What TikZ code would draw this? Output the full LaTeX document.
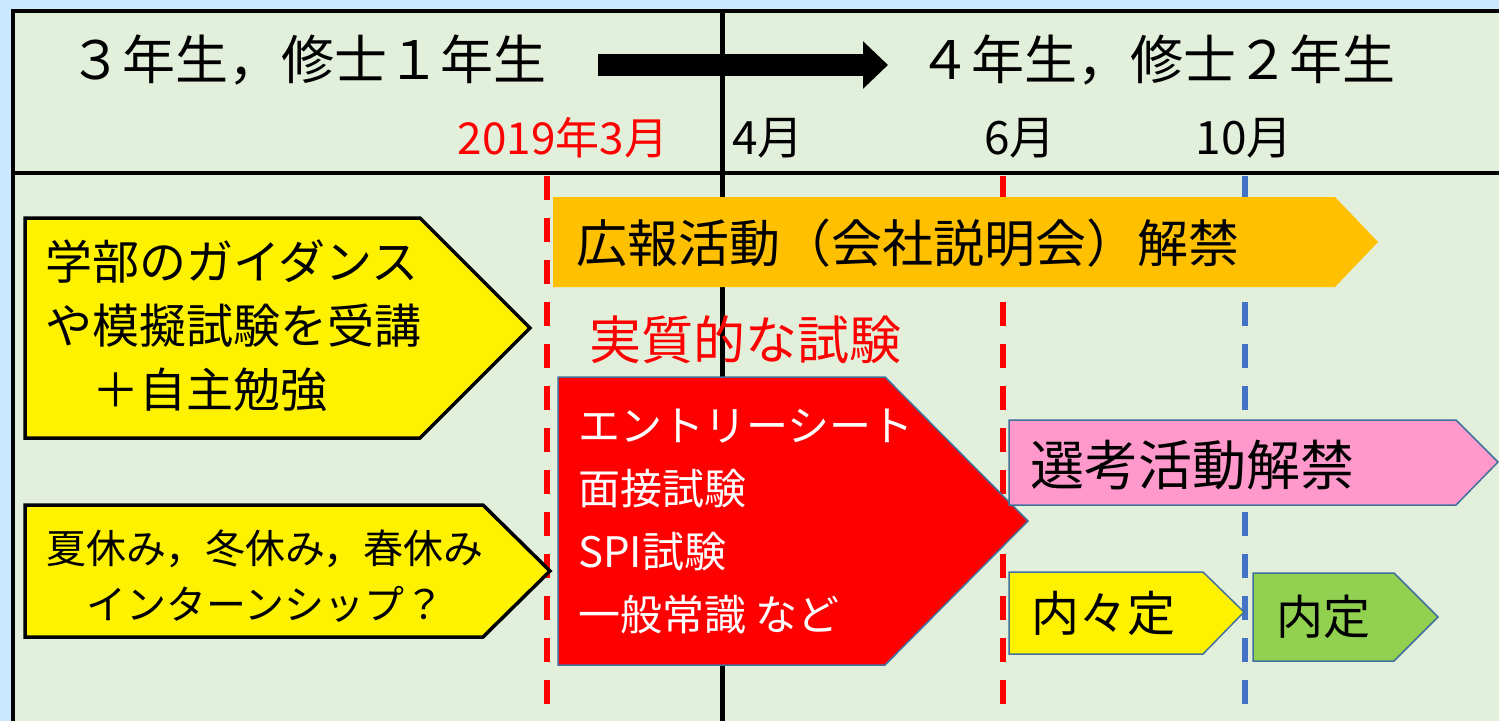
\documentclass[tikz,border=0pt]{standalone}
\usepackage{fontspec}
\newfontfamily\jpfont{Noto Sans CJK JP}
\usetikzlibrary{arrows.meta}
\definecolor{skyback}{RGB}{204,232,255}
\definecolor{panelback}{RGB}{226,239,218}
\definecolor{pubcolor}{RGB}{255,192,0}
\definecolor{selcolor}{RGB}{255,153,204}
\definecolor{offercolor}{RGB}{146,208,80}
\definecolor{tagedge}{RGB}{65,113,156}
\definecolor{monthblue}{RGB}{68,114,196}
\tikzset{
  jtext/.style 2 args={font=\jpfont\fontsize{#1}{#2}\selectfont, inner sep=0pt},
  frameline/.style={line width=4pt},
  monthline/.style={line width=6pt, dash pattern=on 24pt off 18pt},
  prepbox/.style={fill=yellow, draw=black, line width=3.5pt, line join=miter},
  tagbox/.style={draw=tagedge, line width=1.5pt, line join=miter}
}

\begin{document}
\begin{tikzpicture}[x=1pt, y=-1pt]
	\useasboundingbox (0,0) rectangle (1499,721);
	\fill[skyback] (0,0) rectangle (1499,721);
	\fill[panelback] (13,11) rectangle (1499,721);
	% frame of the table
	\draw[frameline] (13,721) -- (13,11) -- (1499,11);
	\draw[frameline] (13,173) -- (1499,173);
	\draw[line width=5pt] (722,11) -- (722,721);
	% header
	\node[jtext={53}{60}] (gradeA) at (308,60) {３年生，修士１年生};
	\node[jtext={53}{60}] (gradeB) at (1157,60) {４年生，修士２年生};
	\coordinate (flowstart) at (598,65);
	\coordinate (flowend) at (888,65);
	\draw[line width=22pt, -{Triangle[length=25pt, width=46pt]}] (flowstart) -- (flowend);
	\node[jtext={44}{50}, text=red] (march) at (563,138) {2019年3月};
	\node[jtext={46}{50}] (april) at (768,138) {4月};
	\node[jtext={46}{50}] (june) at (1020,138) {6月};
	\node[jtext={46}{50}] (october) at (1244,138) {10月};
	% month marks
	\draw[monthline, red] (547,176) -- (547,721);
	\draw[monthline, red] (1003,176) -- (1003,721);
	\draw[monthline, monthblue] (1245,176) -- (1245,721);
	% boxes
	\path[prepbox] (25,218) -- (420,218) -- (530,328) -- (420,438) -- (25,438) -- cycle;
	\node[jtext={47}{64}, anchor=west, align=left] (guidance) at (45,326)
		{学部のガイダンス\\や模擬試験を受講\\　＋自主勉強};
	\path[prepbox] (25,505) -- (483,505) -- (550,571) -- (483,637) -- (25,637) -- cycle;
	\node[jtext={40}{56}, align=center] (intern) at (265,576)
		{夏休み，冬休み，春休み\\インターンシップ？};
	\fill[pubcolor] (553,197) -- (1335,197) -- (1378,242) -- (1335,287) -- (553,287) -- cycle;
	\node[jtext={51}{60}, anchor=west] (publicity) at (576,243) {広報活動（会社説明会）解禁};
	\node[jtext={52}{60}, text=red] (realtest) at (745,340) {実質的な試験};
	\path[tagbox, fill=red] (558,377) -- (885,377) -- (1028,521) -- (885,665) -- (558,665) -- cycle;
	\node[jtext={42}{63}, anchor=west, align=left, text=white] (exams) at (578,522)
		{エントリーシート\\面接試験\\SPI試験\\一般常識 など};
	\path[tagbox, fill=selcolor] (1009,420) -- (1456,420) -- (1498,462) -- (1456,505) -- (1009,505) -- cycle;
	\node[jtext={54}{60}, anchor=west] (selection) at (1030,465) {選考活動解禁};
	\path[tagbox, fill=yellow] (1009,572) -- (1203,572) -- (1244,612) -- (1203,654) -- (1009,654) -- cycle;
	\node[jtext={48}{56}] (preoffer) at (1103,613) {内々定};
	\path[tagbox, fill=offercolor] (1253,573) -- (1394,573) -- (1438,617) -- (1394,661) -- (1253,661) -- cycle;
	\node[jtext={47}{56}] (offer) at (1323,617) {内定};
\end{tikzpicture}
\end{document}
